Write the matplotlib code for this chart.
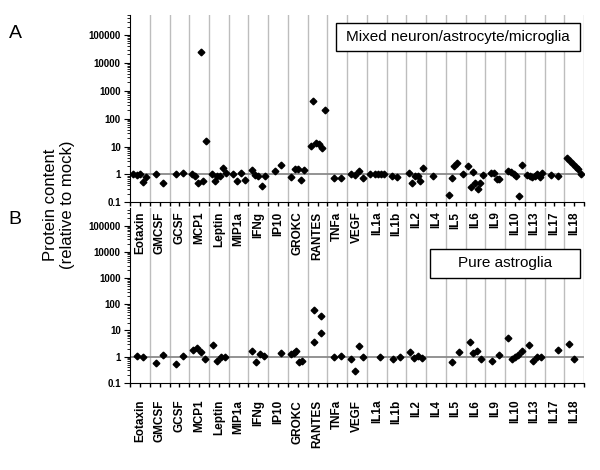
import numpy as np
import matplotlib
matplotlib.use("Agg")
import matplotlib.pyplot as plt
from matplotlib.patches import Rectangle

plt.rcParams["font.family"] = ["Liberation Sans", "DejaVu Sans"]

categories = ["Eotaxin", "GMCSF", "GCSF", "MCP1", "Leptin", "MIP1a", "IFNg", "IP10",
              "GROKC", "RANTES", "TNFa", "VEGF", "IL1a", "IL1b", "IL2", "IL4", "IL5",
              "IL6", "IL9", "IL10", "IL13", "IL17", "IL18"]

# protein content relative to mock, one list per cytokine (replicates in order)
# None = replicate without a value; a nested list = several values on one replicate
mixed_culture = [
    [1.05, 0.94, 1.0, 0.54, 0.82],               # Eotaxin
    [1.05, 0.49],                                # GMCSF
    [1.0, 1.11],                                 # GCSF
    [1.0, 0.85, 0.48, 24000, 0.58, 15.5],        # MCP1
    [1.0, 0.58, 0.85, 0.85, 1.64, 1.11],         # Leptin
    [1.0, 0.59, 1.09, 0.61],                     # MIP1a
    [1.39, 0.94, 0.87, 0.37, 0.85],              # IFNg
    [1.37, 2.2],                                 # IP10
    [0.8, 1.55, 1.55, 0.63, 1.46],               # GROKC
    [10.5, 430, 13.5, 12.1, 8.9, 205],           # RANTES
    [0.72, 0.72],                                # TNFa
    [1.05, 0.92, 1.28, 0.74],                    # VEGF
    [1.02, None, 1.04, 1.04, 1.04, 1.04],        # IL1a
    [0.89, 0.8, None],                           # IL1b
    [1.11, 0.5, 0.85, 0.85, 0.56, 1.64],         # IL2
    [0.88, None],                                # IL4
    [0.18, 0.76, 1.93, 2.47, None, 1.0],         # IL5
    [1.93, 0.34, 1.18, 0.49, 0.3, 0.49, 0.92],   # IL6
    [None, 1.14, 1.14, 0.7, 0.7, None],          # IL9
    [1.28, 1.18, 1.05, 0.87, 0.17, 2.2],         # IL10
    [0.97, 0.87, 0.8, 0.87, 1.0, 0.8, 1.11],     # IL13
    [0.94, 0.85],                                # IL17
    [4.0, 3.1, 2.3, 1.9, 1.6, 1.05],             # IL18
]

astro_culture = [
    [1.04, 0.97],                                # Eotaxin
    [0.57, 1.2],                                 # GMCSF
    [0.52, 1.04],                                # GCSF
    [1.82, 2.11, 1.48, 0.79],                    # MCP1
    [2.9, 0.68, 0.98, 0.98],                     # Leptin
    [],                                          # MIP1a
    [1.7, 0.61, 1.22, 1.03],                     # IFNg
    [None, 1.33],                                # IP10
    [1.27, 1.43, 1.62, 0.62, 0.68, None],        # GROKC
    [[58, 3.5], [36, 8.0]],                      # RANTES
    [0.95, 1.04],                                # TNFa
    [0.79, 0.28, 2.5, 1.0],                      # VEGF
    [None, 0.97],                                # IL1a
    [0.81, 0.97],                                # IL1b
    [1.56, 0.89, 1.04, 0.91],                    # IL2
    [],                                          # IL4
    [0.62, 1.52],                                # IL5
    [3.5, 1.41, 1.66, 0.8],                      # IL6
    [0.7, 1.16],                                 # IL9
    [5.15, 0.81, 0.97, 1.16, 1.62],              # IL10
    [2.84, 0.68, 0.97, 1.0],                     # IL13
    [None, 1.77],                                # IL17
    [3.1, 0.84, None],                           # IL18
]

ytick_values = [0.1, 1, 10, 100, 1000, 10000, 100000]
ytick_labels = ["0.1", "1", "10", "100", "1000", "10000", "100000"]


def draw_panel(ax, data, ytop, label_pad):
    xs, ys = [], []
    for i, vals in enumerate(data):
        n = len(vals)
        for k, v in enumerate(vals):
            if v is None:
                continue
            for y in np.atleast_1d(v):
                xs.append(i + (k + 1) / (n + 1))
                ys.append(y)
    ax.set_yscale("log")
    ax.set_ylim(0.1, ytop)
    ax.set_xlim(0, len(categories))
    for b in range(1, len(categories) + 1):
        ax.axvline(b, color="#bdbdbd", lw=1, zorder=1)
    ax.axhline(1, color="#8a8a8a", lw=1.3, zorder=2)
    ax.plot(xs, ys, "D", color="black", ms=3.4, ls="none", zorder=3)

    ax.set_xticks(np.arange(len(categories)) + 0.5)
    ax.set_xticklabels(categories, rotation=90, fontsize=8.5, fontweight="bold")
    ax.set_xticks(np.arange(len(categories) + 1), minor=True)
    ax.tick_params(axis="x", which="both", direction="out", length=3, width=1)
    ax.tick_params(axis="x", which="major", pad=label_pad)

    ax.set_yticks(ytick_values)
    ax.set_yticklabels(ytick_labels, fontsize=7, fontweight="bold")
    ax.tick_params(axis="y", which="major", direction="out", length=4.3, pad=2.4)
    ax.tick_params(axis="y", which="minor", direction="out", length=2.2)
    ax.spines["top"].set_visible(False)
    ax.spines["right"].set_visible(False)
    ax.patch.set_visible(False)


fig = plt.figure(figsize=(6, 4.7), dpi=100)
ax_b = fig.add_axes([0.2167, 0.1853, 0.7567, 0.3715])
ax_a = fig.add_axes([0.2167, 0.5696, 0.7567, 0.3985])

draw_panel(ax_a, mixed_culture, 5.2e5, 3.7)
draw_panel(ax_b, astro_culture, 4.6e5, 9.2)

# label boxes (figure pixel coordinates converted to fractions)
W, H = 600, 470
for (x0, y0, x1, y1), text in [((335.7, 23.3, 580, 50.7), "Mixed neuron/astrocyte/microglia"),
                               ((430, 249.3, 580, 277.7), "Pure astroglia")]:
    fig.add_artist(Rectangle((x0 / W, 1 - y1 / H), (x1 - x0) / W, (y1 - y0) / H,
                             transform=fig.transFigure, facecolor="white",
                             edgecolor="black", lw=1, zorder=4))
    fig.text((x0 + x1) / 2 / W, 1 - (y0 + y1) / 2 / H, text, fontsize=11,
             ha="center", va="center", zorder=5)

fig.text(0.098, 0.564, "Protein content\n(relative to mock)", rotation=90,
         fontsize=12, ha="center", va="center", multialignment="center")
fig.text(15 / W, 1 - 33 / H, "A", fontsize=14, ha="center", va="center")
fig.text(15 / W, 1 - 220 / H, "B", fontsize=14, ha="center", va="center")

plt.savefig("out.png", dpi=100)
